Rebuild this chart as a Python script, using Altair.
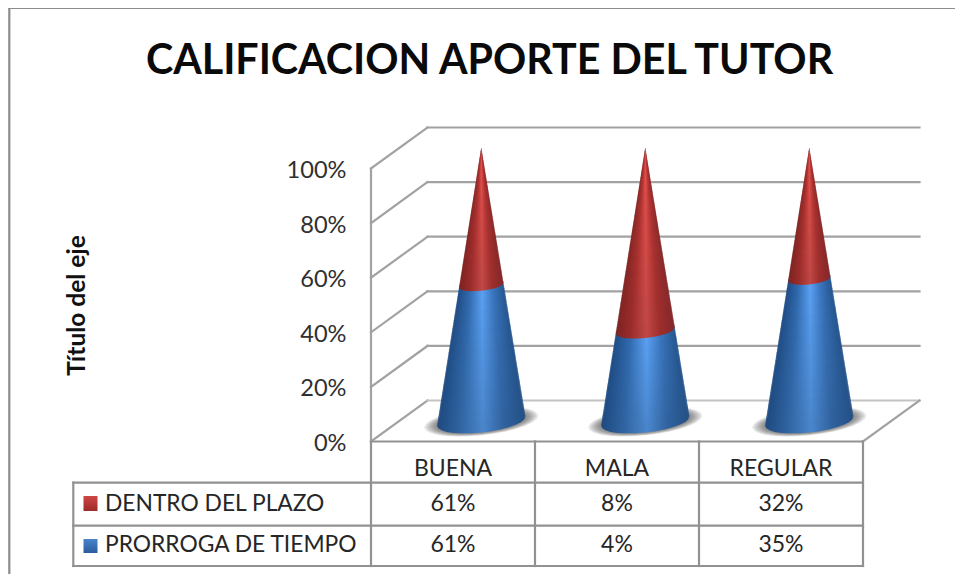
import math
import altair as alt
import pandas as pd
import numpy as np

# ---- values ----
categories = ["BUENA", "MALA", "REGULAR"]
dentro = [61, 8, 32]
prorroga = [61, 4, 35]
series_names = ["DENTRO DEL PLAZO", "PRORROGA DE TIEMPO"]
ticks = [0, 20, 40, 60, 80, 100]
title_text = "CALIFICACION APORTE DEL TUTOR"

# ---- layout of the 3-D box, in screen pixels ----
PLOT_L, PLOT_R, PLOT_T, PLOT_B = 371.0, 863.0, 168.5, 441.5
DX, DY = 56.5, 41.0
W, H = PLOT_R - PLOT_L, PLOT_B - PLOT_T
CW = W / 3


def X(px):
    return (px - PLOT_L) / CW


def Y(py):
    return (PLOT_B - py) / H * 100


def lerp_hex(a, b, f):
    ca = [int(a[i:i + 2], 16) for i in (1, 3, 5)]
    cb = [int(b[i:i + 2], 16) for i in (1, 3, 5)]
    return "#" + "".join(f"{round(p + (q - p) * f):02x}" for p, q in zip(ca, cb))


def h_grad(colors):
    offs = [0, 0.25, 0.52, 0.75, 1]
    return alt.Gradient(gradient="linear", x1=0, x2=1, y1=0, y2=0,
                        stops=[alt.GradientStop(color=c, offset=o) for c, o in zip(colors, offs)])


def v_grad(top, bottom):
    return alt.Gradient(gradient="linear", x1=0, x2=0, y1=0, y2=1,
                        stops=[alt.GradientStop(color=top, offset=0), alt.GradientStop(color=bottom, offset=1)])


x_enc = alt.X("x:Q", scale=alt.Scale(domain=[0, 3], nice=False, zero=False), axis=None)
y_enc = alt.Y("y:Q", scale=alt.Scale(domain=[0, 100], nice=False, zero=False), stack=None,
              title="Título del eje",
              axis=alt.Axis(values=ticks, labelExpr="datum.value + '%'",
                            domain=False, ticks=False, grid=False,
                            labelFont="Lato", labelFontSize=23.6, labelColor="#303030", labelPadding=25, labelOffset=2,
                            titleFont="Lato", titleFontSize=24.5, titleFontWeight="bold", titleColor="#111111",
                            titleAngle=270, titleAlign="center", titleBaseline="middle",
                            titleX=77 - PLOT_L, titleY=305 - PLOT_T))

# ---- box walls, floor and table rules ----
rows = []


def seg(name, color, x0, y0, x1, y1):
    rows.append(dict(id=name, c=color, x=x0, y=y0))
    rows.append(dict(id=name, c=color, x=x1, y=y1))


WALL = "wall"
TAB = "table"
for i, t in enumerate(ticks):
    yb = t + Y(PLOT_B - DY)
    xb0 = X(PLOT_L + DX)
    xb1 = X(PLOT_R + DX)
    seg(f"d{t}", WALL, 0, t, xb0, yb)
    seg(f"b{t}", "floor" if t == 0 else WALL, xb0, yb, xb1, yb)
seg("axis", WALL, 0, 0, 0, 100)
seg("fr", WALL, 3, 0, X(PLOT_R + DX), Y(PLOT_B - DY))
for i in range(4):
    seg(f"v{i}", TAB, i, 0, i, Y(566))
seg("rowtop", TAB, 0, 0, 3, 0)
for py in (482.7, 525.7, 566):
    seg(f"r{py}", TAB, X(73.3), Y(py), 3, Y(py))
seg("tleft", TAB, X(73.3), Y(482.7), X(73.3), Y(566))
seg("bl", "border", X(9.3), Y(8), X(9.3), Y(582))
seg("bt", "border", X(9.3), Y(8), X(963), Y(8))
lines = pd.DataFrame(rows)

lines_layer = alt.Chart(lines).mark_line(interpolate="linear", strokeCap="square").encode(
    x=x_enc, y=y_enc, detail="id:N",
    color=alt.Color("c:N", legend=None, scale=alt.Scale(
        domain=[WALL, "floor", TAB, "border"], range=["#a2a2a2", "#c4c4c4", "#919191", "#8c8c8c"])),
    strokeWidth=alt.StrokeWidth("c:N", legend=None, scale=alt.Scale(
        domain=[WALL, "floor", TAB, "border"], range=[2.2, 2.2, 2.2, 2.6])),
)

# ---- cones ----
BASE_PY = 423.0       # centre of the base
APEX_PY = 149.0
CONE_H = BASE_PY - APEX_PY
R_BASE = 44.0 / CW
B_BASE = 11.0         # half height of the base ellipse (px)
TILT = 4.5            # the ellipse leans: right end higher
U = np.cos(np.linspace(math.pi, 0, 15))
STEP = 1.5
THICK = 2.6
LEVELS = 14

blue_hi = ["#1f4c85", "#316bb0", "#5aa0f2", "#3a76bf", "#25568f"]
blue_lo = ["#1e4a80", "#2f639f", "#4a86cc", "#3163a0", "#234f85"]
red_hi = ["#8a2a28", "#b33432", "#ea4f4b", "#b83634", "#8c2b29"]
red_lo = ["#7d2322", "#9a2c2a", "#c04846", "#9e2e2c", "#84272a"]

shadow_rows = []
band_rows = {("blue", k): [] for k in range(LEVELS)}
band_rows.update({("red", k): [] for k in range(LEVELS)})


def arc(cx_u, t):
    """cx_u: centre in x units; t: 0 at the apex, 1 at the base. Returns x list and lower-edge pixel list."""
    r = R_BASE * t
    yc = APEX_PY + CONE_H * t - 1.5 * t
    xs = cx_u + U * r
    ys = yc - TILT * t * U + B_BASE * t * np.sqrt(np.clip(1 - U ** 2, 0, 1))
    return xs, ys


for i, cat in enumerate(categories):
    cx = i + 0.5 + (DX / 2) / CW
    share = prorroga[i] / (prorroga[i] + dentro[i])
    t_split = 1 - share
    for name, t0, t1 in (("blue", t_split, 1.0), ("red", 0.0, t_split)):
        n = max(2, int(round((t1 - t0) * CONE_H / STEP)) + 1)
        for j, t in enumerate(np.linspace(t0, t1, n)):
            if t <= 0:
                continue
            s = (t - t0) / (t1 - t0)
            lvl = min(LEVELS - 1, int(s * LEVELS))
            xs, ys = arc(cx, t)
            for xv, yv in zip(xs, ys):
                band_rows[(name, lvl)].append(
                    dict(band=f"{i}-{name}-{j}", x=round(float(xv), 4), y=round(float(Y(yv - THICK)), 3), y0=round(float(Y(yv)), 3)))
    # soft shadow on the floor: concentric translucent ellipses
    for k, extra in enumerate(np.linspace(13, 0, 7)):
        rx = (44 + extra) / CW
        ry = 11.0 + extra * 0.22
        cy = BASE_PY - 1.5
        for u in U:
            root = math.sqrt(max(0, 1 - u * u))
            shadow_rows.append(dict(band=f"s{i}-{k}", x=float(cx + rx * u),
                                    y=float(Y(cy - TILT * u * (1 + extra / 44) - ry * root)),
                                    y0=float(Y(cy - TILT * u * (1 + extra / 44) + ry * root))))

shadow_layer = alt.Chart(pd.DataFrame(shadow_rows)).mark_area(color="#3a3a3a", opacity=0.13, interpolate="linear").encode(
    x=x_enc, y=y_enc, y2="y0:Q", detail="band:N")

cone_layers = []
for name, hi, lo in (("blue", blue_hi, blue_lo), ("red", red_hi, red_lo)):
    for k in range(LEVELS):
        f = k / (LEVELS - 1)
        cols = [lerp_hex(a, b, f) for a, b in zip(hi, lo)]
        cone_layers.append(
            alt.Chart(pd.DataFrame(band_rows[(name, k)])).mark_area(color=h_grad(cols), interpolate="linear").encode(
                x=x_enc, y=y_enc, y2="y0:Q", detail="band:N"))

# ---- data table ----
text_rows = []
for i, cat in enumerate(categories):
    text_rows.append(dict(x=i + 0.5, y=Y(469), t=cat))
    text_rows.append(dict(x=i + 0.5, y=Y(504), t=f"{dentro[i]}%"))
    text_rows.append(dict(x=i + 0.5, y=Y(545), t=f"{prorroga[i]}%"))
center_text = alt.Chart(pd.DataFrame(text_rows)).mark_text(
    font="Lato", fontSize=23, color="#262626", align="center", baseline="middle").encode(
    x=x_enc, y=y_enc, text="t:N")

label_df = pd.DataFrame(dict(x=[X(105), X(105)], y=[Y(503.5), Y(545)], t=series_names))
label_text = alt.Chart(label_df).mark_text(
    font="Lato", fontSize=22.8, color="#262626", align="left", baseline="middle").encode(
    x=x_enc, y=y_enc, text="t:N")

title_layer = alt.Chart(pd.DataFrame([dict(x=X(489.5), y=Y(74), t=title_text)])).mark_text(
    font="Lato", fontSize=41.2, fontWeight="bold", color="#0a0a0a", align="center", baseline="alphabetic").encode(
    x=x_enc, y=y_enc, text="t:N")

key_red = alt.Chart(pd.DataFrame([dict(x=X(83.5), x1=X(97.5), y=Y(496), y0=Y(511))])).mark_rect(
    color=v_grad("#d04644", "#9c2b2a")).encode(x=x_enc, x2="x1:Q", y=y_enc, y2="y0:Q")
key_blue = alt.Chart(pd.DataFrame([dict(x=X(83.5), x1=X(97.5), y=Y(539), y0=Y(553))])).mark_rect(
    color=v_grad("#4a84cc", "#2a5c9c")).encode(x=x_enc, x2="x1:Q", y=y_enc, y2="y0:Q")

chart = alt.layer(lines_layer, shadow_layer, *cone_layers, center_text, label_text, title_layer, key_red, key_blue).properties(
    width=W, height=H, background="white",
    padding={"left": PLOT_L - 8, "top": PLOT_T - 8, "right": 963 - 8 - PLOT_R, "bottom": 582 - 8 - PLOT_B},
    autosize=alt.AutoSizeParams(type="none"),
).configure_view(strokeWidth=0, stroke="transparent")

chart.save("out.html", embed_options={"renderer": "svg", "actions": False})
